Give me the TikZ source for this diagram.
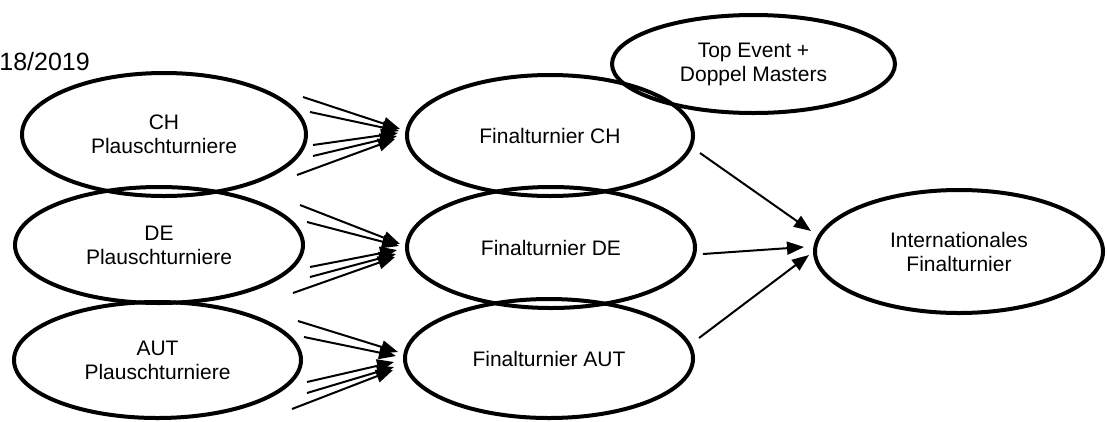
\documentclass[tikz,border=0pt]{standalone}
\usepackage{fontspec}
\setmainfont{Liberation Sans}
\usetikzlibrary{shapes.geometric,arrows.meta}
\begin{document}
\begin{tikzpicture}[x=1pt,y=-1pt,
  oval/.style={ellipse, draw, line width=4pt, inner sep=0pt, align=center,
    font=\fontsize{21}{24}\selectfont},
  feed/.style={line width=2pt, -{Triangle[length=17pt,width=13pt]}},
]
\useasboundingbox (0,0) rectangle (1107,421);

\node[anchor=base east, inner sep=0pt, font=\fontsize{25}{30}\selectfont] (date) at (90,70) {18/2019};

\node[oval, minimum width=284pt, minimum height=123pt] (pCH)  at (164,134.5) {CH\\Plauschturniere};
\node[oval, minimum width=288pt, minimum height=116pt] (pDE)  at (159,245)   {DE\\Plauschturniere};
\node[oval, minimum width=287pt, minimum height=116pt] (pAUT) at (157.5,360) {AUT\\Plauschturniere};

\node[oval, minimum width=286pt, minimum height=121pt] (fCH)  at (550,135.5) {Finalturnier CH};
\node[oval, minimum width=288pt, minimum height=121pt] (fDE)  at (551,247.5) {Finalturnier DE};
\node[oval, minimum width=288pt, minimum height=119pt] (fAUT) at (549,358.5) {Finalturnier AUT};

\node[oval, minimum width=283pt, minimum height=98pt] (top) at (753.5,64) {Top Event +\\Doppel Masters};
\node[oval, minimum width=288pt, minimum height=123pt] (intl) at (959,251.5) {Internationales\\Finalturnier};

\foreach \n/\sx/\sy/\tx/\ty in {
  c1/303/97/400/129, c2/310/112/399/131, c3/313/145/398/133, c4/313/156/397/136, c5/297/175/395/139,
  d1/300/205/400/244, d2/307/222/399/246, d3/310/267/397/250, d4/310/277/396/254, d5/293/293/395/257,
  e1/298/321/398/352, e2/304/337/396/356, e3/307/382/394/362, e4/307/393/394/367, e5/292/409/393/370,
  i1/700/153/811/231, i2/703/254/804/247, i3/699/338/809/255}{
  \coordinate (\n s) at (\sx,\sy);
  \coordinate (\n t) at (\tx,\ty);
  \draw[feed] (\n s) -- (\n t);
}
\end{tikzpicture}
\end{document}
